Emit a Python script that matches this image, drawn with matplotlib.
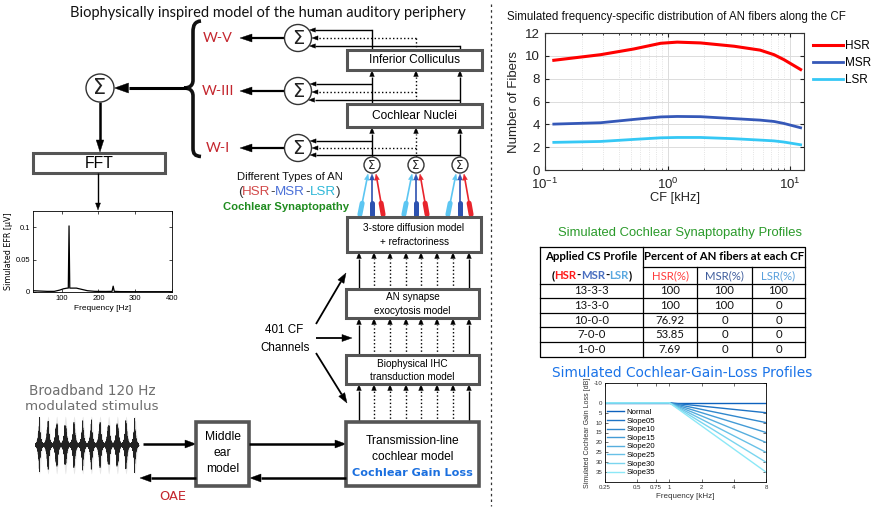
import numpy as np
import matplotlib
matplotlib.use('Agg')
import matplotlib.pyplot as plt
from matplotlib.patches import Rectangle, Circle, Polygon, PathPatch
from matplotlib.path import Path
from matplotlib import font_manager

# ---------------- data ----------------
cf_khz = [0.118, 0.284, 0.53, 0.88, 1.2, 1.86, 3.5, 5.7, 7.4, 8.9, 12.2]
hsr_fibers = [9.61, 10.1, 10.6, 11.1, 11.2, 11.13, 10.84, 10.5, 10.1, 9.67, 8.8]
msr_fibers = [4.02, 4.14, 4.43, 4.65, 4.69, 4.67, 4.5, 4.37, 4.25, 4.08, 3.7]
lsr_fibers = [2.42, 2.5, 2.68, 2.82, 2.85, 2.85, 2.74, 2.62, 2.55, 2.45, 2.21]
fiber_types = ['HSR', 'MSR', 'LSR']

efr_freq = [22, 40, 60, 80, 95, 105, 115, 118, 120, 122, 125, 140, 155, 170, 190,
            220, 237, 240, 243, 260, 300, 350, 400]
efr_amp = [0.002, 0.0015, 0.001, 0.001, 0.003, 0.005, 0.006, 0.006, 0.102, 0.006,
           0.006, 0.006, 0.004, 0.002, 0.001, 0.0008, 0.001, 0.009, 0.001, 0.0006,
           0.0005, 0.0005, 0.0005]

cs_profiles = ['13-3-3', '13-3-0', '10-0-0', '7-0-0', '1-0-0']
hsr_pct = ['100', '100', '76.92', '53.85', '7.69']
msr_pct = ['100', '100', '0', '0', '0']
lsr_pct = ['100', '0', '0', '0', '0']

gain_profiles = ['Normal', 'Slope05', 'Slope10', 'Slope15', 'Slope20', 'Slope25', 'Slope30', 'Slope35']
gain_freq_khz = [0.25, 1, 8]
gain_loss_8k = [0, 5, 10, 15, 20, 25, 30, 35]
gain_xticks = [0.25, 0.5, 0.75, 1, 2, 4, 8]
gain_yticks = [-10, 0, 5, 10, 15, 20, 25, 30, 35]

# ---------------- setup ----------------
names = {f.name for f in font_manager.fontManager.ttflist}
NARROW = 'Liberation Sans Narrow' if 'Liberation Sans Narrow' in names else 'Liberation Sans'
ARIAL = 'Liberation Sans'
CAL = 'Lato'
VERD = 'DejaVu Sans'
plt.rcParams['font.family'] = [ARIAL, 'DejaVu Sans']

W, H = 872, 508
fig = plt.figure(figsize=(W / 100, H / 100), dpi=100)
ax = fig.add_axes([0, 0, 1, 1])
ax.set_xlim(0, W)
ax.set_ylim(H, 0)
ax.axis('off')
R = fig.canvas.get_renderer()


def frac(x0, y0, x1, y1):
    return [x0 / W, 1 - y1 / H, (x1 - x0) / W, (y1 - y0) / H]


def fit(s, x, y, width, ha='center', va='center', **kw):
    t = ax.text(x, y, s, ha=ha, va=va, fontsize=10, **kw)
    bb = t.get_window_extent(renderer=R)
    t.set_fontsize(10 * width / bb.width)
    return t


def multicolor(parts, xc, y, size, **kw):
    ts = []
    widths = []
    for s, c in parts:
        t = ax.text(0, y, s, color=c, fontsize=size, ha='left', va='center', **kw)
        widths.append(t.get_window_extent(renderer=R).width)
        ts.append(t)
    x = xc - sum(widths) / 2
    for t, w in zip(ts, widths):
        t.set_x(x)
        x += w


def arrow(x0, y0, x1, y1, lw=1.0, color='k', ls='-', hl=6, hw=2.5):
    d = np.hypot(x1 - x0, y1 - y0)
    ux, uy = (x1 - x0) / d, (y1 - y0) / d
    bx, by = x1 - ux * hl, y1 - uy * hl
    ax.plot([x0, bx], [y0, by], color=color, lw=lw, ls=ls, solid_capstyle='butt')
    px, py = -uy, ux
    ax.add_patch(Polygon([[x1, y1], [bx + px * hw, by + py * hw], [bx - px * hw, by - py * hw]],
                         closed=True, fc=color, ec=color, lw=0.3))


def box(x0, y0, x1, y1, lw=2.2, ec='#555555'):
    ax.add_patch(Rectangle((x0, y0), x1 - x0, y1 - y0, fc='white', ec=ec, lw=lw, zorder=2))


def sigma(cx, cy, r, fs):
    ax.add_patch(Circle((cx, cy), r, fc='white', ec='#333333', lw=1.0, zorder=3))
    ax.text(cx, cy + 0.5, 'Σ', ha='center', va='center', fontsize=fs, family='DejaVu Sans',
            color='#222222', zorder=4)


# ---------------- left diagram ----------------
fit('Biophysically inspired model of the human auditory periphery', 268, 13, 396, family=CAL,
    color='#111111')

# divider
ax.plot([491, 491], [4, 506], color='#333333', lw=0.9, ls=(0, (2, 2.5)))

# left summation + FFT
sigma(100, 88, 14, 15)
arrow(187, 88, 114.5, 88, lw=2.2, hl=14, hw=5)
arrow(100, 102, 100, 152, lw=1.8, hl=12, hw=3.8)
box(33, 153, 165, 173, lw=2.2)
fit('FFT', 99, 163, 29, family=ARIAL)
arrow(98, 173, 98, 210, lw=1.0, hl=7, hw=2.5)

# brace
P = Path
verts = [(201, 21), (195, 21.5), (193, 25), (193, 32),
         (193, 80),
         (193, 86), (189, 88), (184, 88),
         (189, 88), (193, 90), (193, 96),
         (193, 148),
         (193, 154), (195, 156), (201, 156.5)]
codes = [P.MOVETO, P.CURVE4, P.CURVE4, P.CURVE4, P.LINETO,
         P.CURVE4, P.CURVE4, P.CURVE4, P.CURVE4, P.CURVE4, P.CURVE4,
         P.LINETO, P.CURVE4, P.CURVE4, P.CURVE4]
ax.add_patch(PathPatch(Path(verts, codes), fc='none', ec='#111111', lw=2.6))

# wave labels + sums
wred = '#c4262e'
t = fit('W-V', 218, 38, 30, family=CAL, color=wred)
wfs = t.get_fontsize()
ax.text(218, 91, 'W-III', ha='center', va='center', fontsize=wfs, family=CAL, color=wred)
ax.text(218, 148, 'W-I', ha='center', va='center', fontsize=wfs, family=CAL, color=wred)
for cy in (38, 91, 148):
    arrow(284.5, cy, 240, cy, lw=1.6, hl=12, hw=4)
    sigma(298, cy, 13.5, 14)

cols3 = [372, 416, 460]
styles3 = ['-', ':', '-']
# input lines to sums
for cy, ys, top in ((38, (30, 38, 46), 50), (91, (84, 92, 100), 104), (148, (141, 148, 155), 157)):
    for xv, yv, ls in zip(cols3, ys, styles3):
        ex = 298 + np.sqrt(13.5 ** 2 - (yv - cy) ** 2)
        arrow(xv, yv, ex + 0.5, yv, lw=1.0, ls=ls, hl=6, hw=2.2)
    if cy == 38:
        for xv, yv, ls in zip(cols3, ys, styles3):
            ax.plot([xv, xv], [yv, top], color='k', lw=1.0, ls=ls)

# vertical arrows CN->IC and sums->CN
for xv, ls in zip(cols3, styles3):
    arrow(xv, 104, xv, 70.5, lw=1.0, ls=ls, hl=6, hw=2.3)
    arrow(xv, 157, xv, 127.5, lw=1.0, ls=ls, hl=6, hw=2.3)

box(347, 50, 482, 70)
fit('Inferior Colliculus', 414.5, 60, 92, family=ARIAL)
box(347, 104, 482, 127)
fit('Cochlear Nuclei', 414.5, 116, 85, family=ARIAL)

# small sums with AN-type arrows
c_l, c_m, c_h = '#5cc6f2', '#2d52b0', '#e8242c'
for cx in cols3:
    for (xb, xt, col) in ((cx - 12, cx - 4, c_l), (cx, cx, c_m), (cx + 11, cx + 4, c_h)):
        arrow(xb, 214, xt, 174, lw=1.2, color=col, hl=6, hw=2.4)
        d = np.hypot(xt - xb, 174 - 214)
        ux, uy = (xt - xb) / d, (174 - 214) / d
        ax.plot([xb - ux * 0.5, xb + ux * 11], [214 - uy * 0.5, 214 + uy * 11], color=col, lw=3.6,
                solid_capstyle='round')
    sigma(cx, 165, 8, 8.5)

fit('Different Types of AN', 290, 177, 106, family=ARIAL, color='#111111')
multicolor([('(', '#333333'), ('HSR', '#d24a4a'), ('-', '#333333'), ('MSR', '#4a70d8'),
            ('-', '#333333'), ('LSR', '#2fb8d8'), (')', '#333333')], 289, 192, 9.6, family=ARIAL)
fit('Cochlear Synaptopathy', 286, 207, 126, family=ARIAL, weight='bold', color='#1f8c1f')

# model boxes
box(347, 217, 481, 252)
t = fit('3-store diffusion model', 414, 228, 102, family=ARIAL)
ax.text(414, 242, '+ refractoriness', ha='center', va='center', fontsize=t.get_fontsize(),
        family=ARIAL)
xs8 = [359, 374, 390, 406, 421, 437, 453, 469]
ls8 = ['-', ':', ':', ':', ':', ':', ':', '-']
for y0, y1 in ((289, 252.5), (355, 318.5), (422, 384.5)):
    for xv, ls in zip(xs8, ls8):
        arrow(xv, y0, xv, y1, lw=1.0, ls=ls, hl=6, hw=2.3)
box(346, 289, 479, 318)
t = fit('exocytosis model', 412.5, 311, 77, family=ARIAL)
fs_b = t.get_fontsize()
ax.text(412.5, 297, 'AN synapse', ha='center', va='center', fontsize=fs_b, family=ARIAL)
box(346, 355, 479, 384)
ax.text(412.5, 364, 'Biophysical IHC', ha='center', va='center', fontsize=fs_b, family=ARIAL)
ax.text(412.5, 377, 'transduction model', ha='center', va='center', fontsize=fs_b, family=ARIAL)
box(346, 422, 479, 486, lw=2.6)
t = fit('Transmission-line', 412.5, 441, 94, family=ARIAL)
ax.text(412.5, 457, 'cochlear model', ha='center', va='center', fontsize=t.get_fontsize(), family=ARIAL)
fit('Cochlear Gain Loss', 412.5, 473, 120, family=VERD, weight='bold', color='#1a6fdf')

# 401 CF channels
t = fit('401 CF', 284, 330, 38, family=ARIAL)
ax.text(285, 348, 'Channels', ha='center', va='center', fontsize=t.get_fontsize(), family=ARIAL)
arrow(316, 324, 346, 273, lw=1.3, hl=10, hw=3.5)
arrow(316, 338, 352, 338, lw=1.3, hl=10, hw=3.5)
arrow(316, 353, 347, 403, lw=1.3, hl=10, hw=3.5)

# middle ear
box(196, 422, 249, 486, lw=2.6)
t = fit('Middle', 222.5, 437, 36, family=ARIAL)
ax.text(222.5, 453, 'ear', ha='center', va='center', fontsize=t.get_fontsize(), family=ARIAL)
ax.text(222.5, 469, 'model', ha='center', va='center', fontsize=t.get_fontsize(), family=ARIAL)
arrow(143, 444, 196, 444, lw=1.8, hl=11, hw=4)
arrow(249, 444, 346, 444, lw=1.8, hl=11, hw=4)
arrow(346, 478, 250, 478, lw=1.8, hl=11, hw=4)
arrow(196, 478, 140, 478, lw=1.8, hl=11, hw=4)
fit('OAE', 173, 497, 27, family=VERD, color='#c4262e')

fit('Broadband 120 Hz', 92, 391, 127, family=VERD, color='#6e6e6e')
fit('modulated stimulus', 92, 407, 133, family=VERD, color='#6e6e6e')

# stimulus waveform illustration (AM broadband burst train)
axw = fig.add_axes(frac(35, 412, 139, 478))
axw.axis('off')
tt = np.linspace(0, 1, 4000)
n_bursts = 12
env = np.zeros_like(tt)
env2 = np.zeros_like(tt)
for k in range(n_bursts):
    c = (k + 0.5) / n_bursts
    env += np.exp(-np.abs(tt - c) / 0.012)
    env2 += np.exp(-((tt - c) / 0.02) ** 2)
carrier = np.sin(2 * np.pi * 700 * tt) * (0.55 + 0.45 * np.sin(2 * np.pi * 53 * tt) ** 2)
axw.fill_between(tt, -env2, env2, color='#bbbbbb', alpha=0.35, lw=0)
axw.plot(tt, env * carrier, color='#222222', lw=0.5)
axw.fill_between(tt, -0.55 * env, 0.55 * env, color='#111111', alpha=0.6, lw=0)
axw.set_xlim(0, 1)
axw.set_ylim(-1.15, 1.15)

# EFR spectrum
axe = fig.add_axes(frac(33, 211, 172, 292))
axe.plot(efr_freq, efr_amp, color='k', lw=0.9)
axe.set_xlim(22, 400)
axe.set_ylim(0, 0.125)
axe.set_xticks([100, 200, 300, 400])
axe.set_yticks([0, 0.05, 0.1])
axe.set_yticklabels(['0', '0.05', '0.1'])
axe.tick_params(direction='in', length=2, width=0.5, labelsize=5.5, pad=2, top=True, right=True)
for s in axe.spines.values():
    s.set_linewidth(0.6)
axe.set_xlabel('Frequency [Hz]', fontsize=6, labelpad=2)
axe.set_ylabel('Simulated EFR [μV]', fontsize=5.8, labelpad=2, family='DejaVu Sans')

# ---------------- right: fibers distribution ----------------
fit('Simulated frequency-specific distribution of AN fibers along the CF', 507, 17, 340,
    ha='left', family=NARROW, color='#111111')
axf = fig.add_axes(frac(545, 33, 804, 170))
axf.plot(cf_khz, hsr_fibers, color='#ff0000', lw=2.2, label=fiber_types[0])
axf.plot(cf_khz, msr_fibers, color='#3558b8', lw=2.0, label=fiber_types[1])
axf.plot(cf_khz, lsr_fibers, color='#35c8f5', lw=2.0, label=fiber_types[2])
axf.set_xscale('log')
axf.set_xlim(0.1, 13)
axf.set_ylim(0, 12)
axf.set_yticks(range(0, 13, 2))
axf.grid(True, which='major', color='#dcdcdc', lw=0.7)
axf.grid(True, which='minor', axis='x', color='#dcdcdc', lw=0.6, ls=':')
axf.set_axisbelow(True)
axf.tick_params(which='both', direction='in', top=True, right=True, labelsize=9.5, colors='#222222')
axf.tick_params(which='major', length=3)
axf.tick_params(which='minor', length=1.5)
axf.tick_params(axis='x', which='major', pad=5)
for s in axf.spines.values():
    s.set_color('#333333')
    s.set_linewidth(0.8)
axf.set_xlabel('CF [kHz]', fontsize=9.3, labelpad=0, color='#222222')
axf.set_ylabel('Number of Fibers', fontsize=9.5, labelpad=4, color='#222222')
axf.legend(loc='upper left', bbox_to_anchor=(1.035, 0.95), frameon=False, fontsize=8.5,
           handlelength=2.5, labelspacing=0.45, borderpad=0, borderaxespad=0, handletextpad=0.2)

# ---------------- right: table ----------------
fit('Simulated Cochlear Synaptopathy Profiles', 680, 233, 245, family=NARROW, color='#2a9a2a')
col_edges = [540, 643, 697, 752, 805]
row_edges = [247, 267, 284, 298, 313, 327, 342, 357]
lk = dict(color='k', lw=0.9)
ax.plot([540, 805, 805, 540, 540], [247, 247, 357, 357, 247], **lk)
ax.plot([643, 805], [267, 267], **lk)
for yv in row_edges[2:-1]:
    ax.plot([540, 805], [yv, yv], **lk)
ax.plot([643, 643], [247, 357], **lk)
for xv in col_edges[2:4]:
    ax.plot([xv, xv], [267, 357], **lk)
t = fit('Applied CS Profile', 591.5, 257, 92, family=CAL, weight='bold')
tfs = t.get_fontsize()
ax.text(724, 257, 'Percent of AN fibers at each CF', ha='center', va='center', fontsize=tfs,
        family=CAL, weight='bold')
multicolor([('(', 'k'), ('HSR', '#ff1a1a'), ('-', 'k'), ('MSR', '#4a6fc0'), ('-', 'k'),
            ('LSR', '#5aa8e0'), (')', 'k')], 591.5, 275.5, tfs, family=CAL, weight='bold')
hdr_colors = ['#ff3b3b', '#3f5d9c', '#5aa0dc']
for j, (lab, c) in enumerate(zip([f + '(%)' for f in fiber_types], hdr_colors)):
    ax.text((col_edges[j + 1] + col_edges[j + 2]) / 2, 275.5, lab, ha='center', va='center',
            fontsize=tfs, family=CAL, color=c)
for i in range(len(cs_profiles)):
    yc = (row_edges[i + 2] + row_edges[i + 3]) / 2
    for j, val in enumerate([cs_profiles[i], hsr_pct[i], msr_pct[i], lsr_pct[i]]):
        ax.text((col_edges[j] + col_edges[j + 1]) / 2, yc, val, ha='center', va='center',
                fontsize=tfs, family=CAL, color='#111111')

# ---------------- right: gain loss ----------------
fit('Simulated Cochlear-Gain-Loss Profiles', 682, 373, 261, family=VERD, color='#1a73e8')
axg = fig.add_axes(frac(605, 383, 766, 482))
c0 = np.array([0.05, 0.38, 0.74])
c1 = np.array([0.55, 0.91, 0.97])
for k, (name, v) in enumerate(zip(gain_profiles, gain_loss_8k)):
    col = c0 + (c1 - c0) * k / (len(gain_profiles) - 1)
    axg.plot(gain_freq_khz, [0, 0, v], color=col, lw=1.0, label=name)
axg.set_xscale('log')
axg.set_xlim(0.25, 8)
axg.set_ylim(40, -10)
axg.set_xticks(gain_xticks)
axg.set_xticklabels([str(v) for v in gain_xticks])
axg.minorticks_off()
axg.set_yticks(gain_yticks)
axg.set_yticklabels([str(v) for v in gain_yticks])
axg.tick_params(direction='in', length=2, width=0.5, labelsize=4.4, pad=2, top=True, right=True,
                colors='#333333')
for s in axg.spines.values():
    s.set_linewidth(0.6)
axg.set_xlabel('Frequency [kHz]', fontsize=5.8, labelpad=2, color='#333333')
axg.set_ylabel('Simulated Cochlear Gain Loss [dB]', fontsize=5.0, labelpad=2, color='#333333')
axg.legend(loc='upper left', bbox_to_anchor=(0.0, 0.765), frameon=False, fontsize=5.6,
           handlelength=2.2, labelspacing=0.15, borderpad=0.1, borderaxespad=0.2, handletextpad=0.3)

fig.savefig('out.png', dpi=100)
